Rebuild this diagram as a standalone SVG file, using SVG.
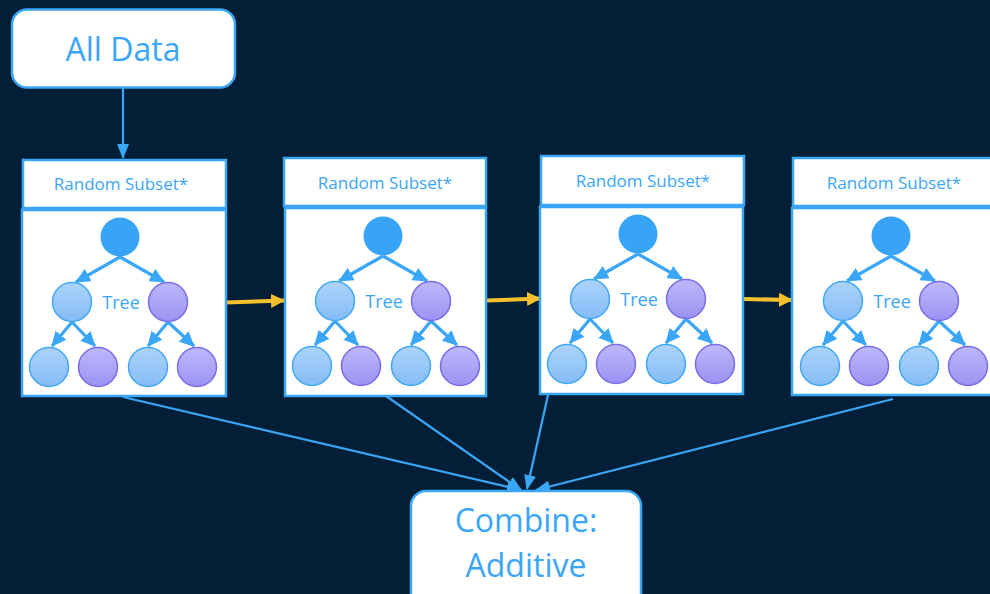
<svg xmlns="http://www.w3.org/2000/svg" width="990" height="594" viewBox="0 0 990 594">
  <defs>
    <style>
      .bg { fill: #031f37; }
      .box { fill: #ffffff; stroke: #3aa6f7; stroke-width: 2.5; }
      .panel { fill: #ffffff; stroke: #3aa6f7; stroke-width: 2.5; }
      .big { font-family: "Open Sans", "Noto Sans", sans-serif; font-size: 32px; fill: #3aa6f7; text-anchor: middle; }
      .head { font-family: "Open Sans", "Noto Sans", sans-serif; font-size: 17px; fill: #3aa6f7; text-anchor: middle; }
      .lbl { font-family: "Open Sans", "Noto Sans", sans-serif; font-size: 18px; fill: #3aa6f7; text-anchor: middle; }
      .edge { stroke: #3aa6f7; stroke-width: 2.2; fill: none; }
      .tedge { stroke: #3aa6f7; stroke-width: 3.2; fill: none; }
      .seq { stroke: #f5c02c; stroke-width: 4; fill: none; }
      .root { fill: #38a4f7; }
      .lb { fill: url(#gBlue); stroke: #41a8f6; stroke-width: 1.5; }
      .pu { fill: url(#gPurple); stroke: #7a6bea; stroke-width: 1.5; }
    </style>
    <linearGradient id="gBlue" x1="0" y1="0" x2="0" y2="1">
      <stop offset="0" stop-color="#acd3fa"/>
      <stop offset="1" stop-color="#84bcf7"/>
    </linearGradient>
    <linearGradient id="gPurple" x1="0" y1="0" x2="0" y2="1">
      <stop offset="0" stop-color="#bdb9fb"/>
      <stop offset="1" stop-color="#9a92f3"/>
    </linearGradient>
    <marker id="ah" markerWidth="15" markerHeight="12" refX="14" refY="6" orient="auto" markerUnits="userSpaceOnUse">
      <path d="M0,0 L15,6 L0,12 Z" fill="#3aa6f7"/>
    </marker>
    <marker id="ahT" markerWidth="15" markerHeight="14" refX="14" refY="7" orient="auto" markerUnits="userSpaceOnUse">
      <path d="M0,0 L15,7 L0,14 Z" fill="#3aa6f7"/>
    </marker>
    <marker id="ahY" markerWidth="14" markerHeight="14" refX="13" refY="7" orient="auto" markerUnits="userSpaceOnUse">
      <path d="M0,0 L14,7 L0,14 Z" fill="#f5c02c"/>
    </marker>
    <!-- small binary tree, drawn around its root at (0,0) -->
    <g id="tree">
      <path class="tedge" marker-end="url(#ahT)" d="M0,20 L-44,45"/>
      <path class="tedge" marker-end="url(#ahT)" d="M0,20 L44,45"/>
      <path class="tedge" marker-end="url(#ahT)" d="M-48,85 L-68,109"/>
      <path class="tedge" marker-end="url(#ahT)" d="M-48,85 L-25,109"/>
      <path class="tedge" marker-end="url(#ahT)" d="M48,85 L28,109"/>
      <path class="tedge" marker-end="url(#ahT)" d="M48,85 L74,109"/>
      <circle class="root" cx="0" cy="0" r="19.5"/>
      <circle class="lb" cx="-48" cy="65" r="19.5"/>
      <circle class="pu" cx="48" cy="65" r="19.5"/>
      <circle class="lb" cx="-71" cy="130" r="19.5"/>
      <circle class="pu" cx="-22" cy="130" r="19.5"/>
      <circle class="lb" cx="28" cy="130" r="19.5"/>
      <circle class="pu" cx="77" cy="130" r="19.5"/>
      <text class="lbl" x="1" y="72">Tree</text>
    </g>
  </defs>

  <rect class="bg" x="0" y="0" width="990" height="594"/>

  <!-- connectors -->
  <g id="connectors">
    <path class="edge" marker-end="url(#ah)" d="M123,88 L123,158"/>
    <path class="seq" marker-end="url(#ahY)" d="M225,302.5 L284,300.5"/>
    <path class="seq" marker-end="url(#ahY)" d="M487,300.5 L540,298.5"/>
    <path class="seq" marker-end="url(#ahY)" d="M744,299 L792,300"/>
    <path class="edge" marker-end="url(#ah)" d="M123,397 L521,490"/>
    <path class="edge" marker-end="url(#ah)" d="M386,396 L521,490"/>
    <path class="edge" marker-end="url(#ah)" d="M548,395 L527,489"/>
    <path class="edge" marker-end="url(#ah)" d="M893,399 L536,490"/>
  </g>

  <g id="all-data">
    <rect class="box" x="12" y="9.5" width="223" height="78" rx="15"/>
    <text class="big" x="123" y="61">All Data</text>
  </g>

  <g id="subset-1">
    <rect class="panel" x="23" y="160" width="203" height="48"/>
    <text class="head" x="121" y="190">Random Subset*</text>
    <rect class="panel" x="22" y="210" width="204" height="186"/>
    <use href="#tree" transform="translate(120,237)"/>
  </g>

  <g id="subset-2">
    <rect class="panel" x="284" y="158" width="202" height="48"/>
    <text class="head" x="385" y="189">Random Subset*</text>
    <rect class="panel" x="285" y="208" width="201" height="188"/>
    <use href="#tree" transform="translate(383,236)"/>
  </g>

  <g id="subset-3">
    <rect class="panel" x="541" y="156" width="203" height="49"/>
    <text class="head" x="643" y="187">Random Subset*</text>
    <rect class="panel" x="540" y="207" width="203" height="187"/>
    <use href="#tree" transform="translate(638,234)"/>
  </g>

  <g id="subset-4">
    <rect class="panel" x="793" y="158" width="205" height="48"/>
    <text class="head" x="894" y="189">Random Subset*</text>
    <rect class="panel" x="792" y="208" width="206" height="187"/>
    <use href="#tree" transform="translate(891,236)"/>
  </g>

  <g id="combine">
    <rect class="box" x="411" y="491" width="230" height="120" rx="15"/>
    <text class="big" x="526" y="532">Combine:</text>
    <text class="big" x="526" y="577">Additive</text>
  </g>
</svg>
